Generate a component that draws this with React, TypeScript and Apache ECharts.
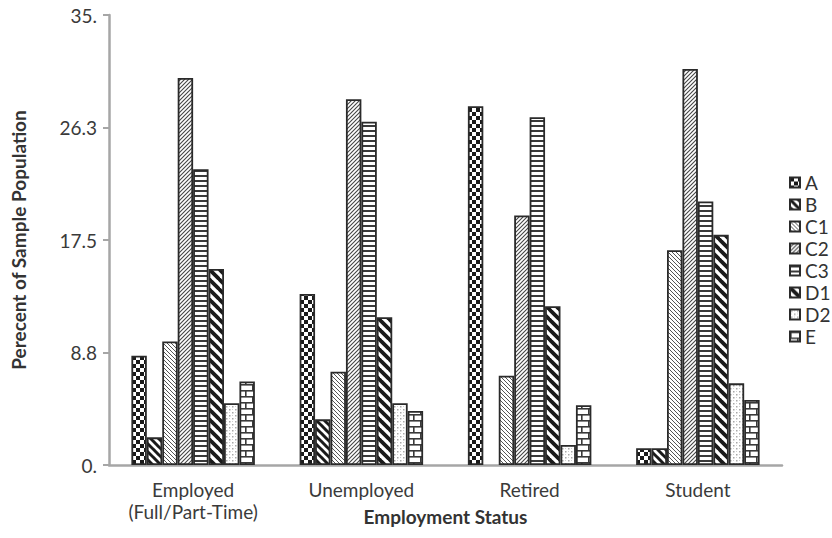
import React, { useEffect, useRef } from "react";
import * as echarts from "echarts";

const categories = ["Employed\n(Full/Part-Time)", "Unemployed", "Retired", "Student"];
const seriesNames = ["A", "B", "C1", "C2", "C3", "D1", "D2", "E"];
const valuesA = [8.5, 13.3, 27.9, 1.3];
const valuesB = [2.15, 3.55, null, 1.3];
const valuesC1 = [9.6, 7.25, 6.95, 16.7];
const valuesC2 = [30.1, 28.45, 19.4, 30.8];
const valuesC3 = [23.0, 26.7, 27.05, 20.5];
const valuesD1 = [15.25, 11.5, 12.35, 17.9];
const valuesD2 = [4.8, 4.8, 1.55, 6.35];
const valuesE = [6.5, 4.2, 4.65, 5.05];
const yTickLabels = ["0.", "8.8", "17.5", "26.3", "35."];

const FONT = "Lato, 'Open Sans', sans-serif";

type Draw = (ctx: CanvasRenderingContext2D, w: number, h: number) => void;

function tile(w: number, h: number, draw: Draw) {
  const c = document.createElement("canvas");
  c.width = w;
  c.height = h;
  const ctx = c.getContext("2d") as CanvasRenderingContext2D;
  ctx.fillStyle = "#ffffff";
  ctx.fillRect(0, 0, w, h);
  draw(ctx, w, h);
  return { image: c, repeat: "repeat", imageWidth: w, imageHeight: h } as any;
}

function diag(size: number, lw: number, color: string, back: boolean) {
  return tile(size, size, (ctx, s) => {
    ctx.strokeStyle = color;
    ctx.lineWidth = lw;
    for (const o of [-s, 0, s]) {
      ctx.beginPath();
      if (back) {
        ctx.moveTo(o - 1, -1);
        ctx.lineTo(o + s + 1, s + 1);
      } else {
        ctx.moveTo(o - 1, s + 1);
        ctx.lineTo(o + s + 1, -1);
      }
      ctx.stroke();
    }
  });
}

function makePatterns() {
  const checker = tile(8, 8, (ctx) => {
    ctx.fillStyle = "#1a1a1a";
    ctx.fillRect(0, 0, 4, 4);
    ctx.fillRect(4, 4, 4, 4);
  });
  const wideBack = diag(8, 3, "#1a1a1a", true);
  const fineBack = diag(4, 1, "#555555", true);
  const fineFwd = diag(4, 1.1, "#444444", false);
  const horiz = tile(6, 5, (ctx, w) => {
    ctx.fillStyle = "#3a3a3a";
    ctx.fillRect(0, 0, w, 2);
  });
  const wideBack2 = diag(10, 3.8, "#1a1a1a", true);
  const dots = tile(6, 6, (ctx) => {
    ctx.fillStyle = "#a8a8a8";
    ctx.fillRect(1, 1, 1.5, 1.5);
    ctx.fillRect(4, 4, 1.5, 1.5);
    ctx.fillStyle = "#d0d0d0";
    ctx.fillRect(4, 1, 1, 1);
    ctx.fillRect(1, 4, 1, 1);
  });
  const brick = tile(14, 12, (ctx, w) => {
    ctx.fillStyle = "#3a3a3a";
    ctx.fillRect(0, 0, w, 1.6);
    ctx.fillRect(0, 6, w, 1.6);
    ctx.fillRect(0, 0, 1.6, 6);
    ctx.fillRect(7, 6, 1.6, 6);
  });
  return [checker, wideBack, fineBack, fineFwd, horiz, wideBack2, dots, brick];
}

export default function App() {
  const ref = useRef<HTMLDivElement>(null);
  useEffect(() => {
    if (!ref.current) return;
    const chart = echarts.init(ref.current, undefined, { renderer: "svg" });
    const patterns = makePatterns();
    const allValues = [valuesA, valuesB, valuesC1, valuesC2, valuesC3, valuesD1, valuesD2, valuesE];
    const axisColor = "#a6a6a6";
    chart.setOption({
      animation: false,
      backgroundColor: "#ffffff",
      textStyle: { fontFamily: FONT },
      grid: { left: 109, right: 50, top: 15, bottom: 73, containLabel: false },
      legend: {
        orient: "vertical",
        left: 784,
        top: 168,
        padding: 5,
        itemWidth: 10,
        itemHeight: 10,
        itemGap: 3,
        icon: "rect",
        textStyle: { fontFamily: FONT, fontSize: 19, color: "#333333" },
        data: seriesNames,
      },
      xAxis: {
        type: "category",
        data: categories,
        name: "Employment Status",
        nameLocation: "middle",
        nameGap: 42,
        nameMoveOverlap: false,
        nameTextStyle: { fontFamily: FONT, fontSize: 19, fontWeight: "bold", color: "#333333" },
        axisLine: { lineStyle: { color: axisColor, width: 2.5 } },
        axisTick: { show: false },
        axisLabel: { fontFamily: FONT, fontSize: 19, color: "#3a3a3a", margin: 13, lineHeight: 22, interval: 0 },
      },
      yAxis: {
        type: "value",
        min: 0,
        max: 35,
        interval: 8.75,
        name: "Perecent of Sample Population",
        nameLocation: "middle",
        nameGap: 81,
        nameMoveOverlap: false,
        nameTextStyle: { fontFamily: FONT, fontSize: 19, fontWeight: "bold", color: "#333333" },
        axisLine: { show: true, lineStyle: { color: axisColor, width: 2.5 } },
        axisTick: { show: true, length: 6, lineStyle: { color: axisColor, width: 2 } },
        splitLine: { show: false },
        axisLabel: {
          fontFamily: FONT,
          fontSize: 19,
          color: "#3a3a3a",
          margin: 12,
          formatter: (_v: number, i: number) => yTickLabels[i],
        },
      },
      series: seriesNames.map((name, i) => ({
        name,
        type: "bar",
        data: allValues[i],
        barGap: "0%",
        barCategoryGap: "26.6%",
        itemStyle: { color: patterns[i], borderColor: "#2a2a2a", borderWidth: 1.8 },
      })),
    });
    return () => chart.dispose();
  }, []);
  return <div ref={ref} style={{ width: 832, height: 538, position: "absolute", left: 0, top: 0 }} />;
}
